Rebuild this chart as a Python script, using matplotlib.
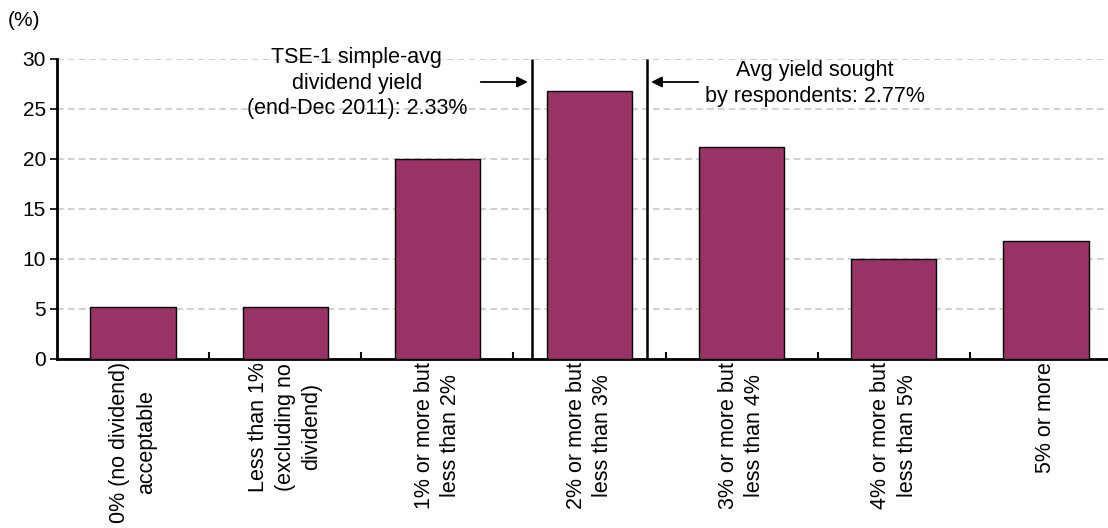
import numpy as np
import matplotlib
matplotlib.use("Agg")
import matplotlib.pyplot as plt
from matplotlib.ticker import FixedLocator, NullFormatter

plt.rcParams['font.family'] = ['Liberation Sans', 'DejaVu Sans']

categories = [
    "0% (no dividend)\nacceptable",
    "Less than 1%\n(excluding no\ndividend)",
    "1% or more but\nless than 2%",
    "2% or more but\nless than 3%",
    "3% or more but\nless than 4%",
    "4% or more but\nless than 5%",
    "5% or more",
]
shares = [5.2, 5.2, 20.0, 26.8, 21.2, 10.0, 11.8]

tse_label = "TSE-1 simple-avg\ndividend yield\n(end-Dec 2011): 2.33%"
sought_label = "Avg yield sought\nby respondents: 2.77%"

bar_color = "#993366"
bar_width = 0.56
fs = 15
fs_text = 15.5

fig = plt.figure(figsize=(11.08, 5.28), dpi=100)
ax = fig.add_axes([57 / 1108, 169 / 528, 1065 / 1108, 300 / 528])

x = np.arange(len(categories))
ax.bar(x, shares, width=bar_width, color=bar_color, edgecolor="black",
       linewidth=1.0, zorder=3)

ax.set_xlim(-0.5, len(categories) - 0.5)
ax.set_ylim(0, 30)
ax.set_yticks(np.arange(0, 31, 5))
ax.yaxis.grid(True, linestyle=(0, (4, 2.5)), color="#c8c8c8", linewidth=1.2, zorder=0)
ax.set_axisbelow(True)

# category labels at bar centres, boundary ticks between categories
ax.set_xticks(x)
ax.set_xticklabels(categories, rotation=90, ha="center", va="top",
                   multialignment="center", fontsize=fs_text)
for lbl in ax.get_xticklabels():
    lbl.set_linespacing(1.35)
ax.tick_params(axis="x", which="major", length=0, pad=2)
ax.xaxis.set_minor_locator(FixedLocator(x[:-1] + 0.5))
ax.xaxis.set_minor_formatter(NullFormatter())
ax.tick_params(axis="x", which="minor", direction="in", length=5, width=1.5)
ax.tick_params(axis="y", direction="out", length=5, width=1.2, labelsize=fs, pad=3)

for side in ("top", "right"):
    ax.spines[side].set_visible(False)
for side in ("left", "bottom"):
    ax.spines[side].set_linewidth(2.0)
    ax.spines[side].set_color("black")

# vertical markers flanking the 2%-3% bar
mid = 3
gap = 0.095
left_line = mid - bar_width / 2 - gap
right_line = mid + bar_width / 2 + gap
ax.vlines([left_line, right_line], 0, 30, colors="black", linewidth=1.8, zorder=4)

arrow_y = 27.7
ax.annotate("", xy=(left_line - 0.03, arrow_y), xytext=(left_line - 0.34, arrow_y),
            arrowprops=dict(arrowstyle="-|>", color="black", lw=1.3,
                            mutation_scale=16, shrinkA=0, shrinkB=0))
ax.annotate("", xy=(right_line + 0.03, arrow_y), xytext=(right_line + 0.34, arrow_y),
            arrowprops=dict(arrowstyle="-|>", color="black", lw=1.3,
                            mutation_scale=16, shrinkA=0, shrinkB=0))

ax.text(1.47, 27.6, tse_label, ha="center", va="center",
        multialignment="center", fontsize=fs_text, linespacing=1.3, zorder=5)
ax.text(4.48, 27.55, sought_label, ha="center", va="center",
        multialignment="center", fontsize=fs_text, linespacing=1.3, zorder=5)

fig.text(8 / 1108, 1 - 20 / 528, "(%)", ha="left", va="center", fontsize=fs)

fig.savefig("out.png", dpi=100)
